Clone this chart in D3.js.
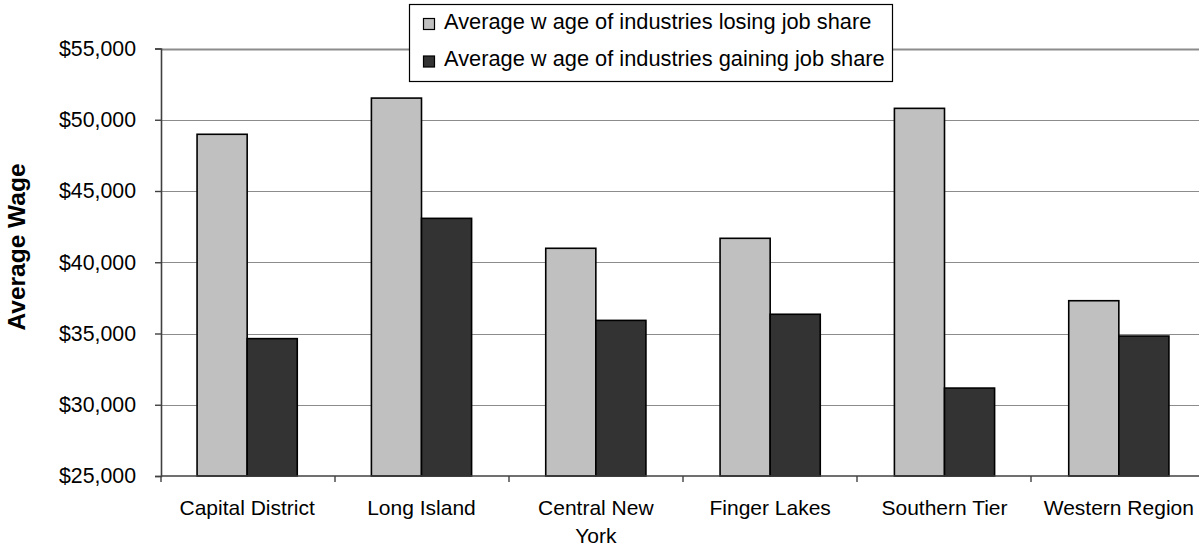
<!DOCTYPE html>
<html>
<head>
<meta charset="utf-8">
<script src="https://cdn.jsdelivr.net/npm/d3@7"></script>
<style>
  html, body { margin: 0; padding: 0; background: #fff; }
  svg { display: block; font-family: "Liberation Sans", Arial, sans-serif; }
</style>
</head>
<body>
<svg id="chart" width="1199" height="548"></svg>
<script>
const categories = ["Capital District", "Long Island", "Central New York", "Finger Lakes", "Southern Tier", "Western Region"];
const seriesNames = ["Average w age of industries losing job share", "Average w age of industries gaining job share"];
const losingValues = [48980, 51520, 40980, 41680, 50800, 37300];
const gainingValues = [34640, 43080, 35920, 36350, 31170, 34820];
const yTicks = [25000, 30000, 35000, 40000, 45000, 50000, 55000];
const yTitle = "Average Wage";

(function () {
const seriesColors = ["#c0c0c0", "#333333"];
const svg = d3.select("#chart");
const pLeft = 161, pRight = 1205, pTop = 48.5, pBottom = 476;

const y = d3.scaleLinear().domain([25000, 55000]).range([pBottom, pTop]);
const x0 = d3.scaleBand().domain(categories).range([pLeft, pRight])
  .paddingInner(74 / 174).paddingOuter(36 / 174);
const x1 = d3.scaleBand().domain([0, 1]).range([0, x0.bandwidth()]);

// gridlines
svg.append("g").selectAll("line").data(yTicks.filter(d => d > 25000)).join("line")
  .attr("x1", pLeft).attr("x2", pRight)
  .attr("y1", d => Math.round(y(d)) + 0.5).attr("y2", d => Math.round(y(d)) + 0.5)
  .attr("stroke", "#8c8c8c").attr("stroke-width", d => d === 55000 ? 2 : 1.2);

// bars
const data = categories.map((c, i) => ({ c, v: [losingValues[i], gainingValues[i]] }));
const groups = svg.append("g").selectAll("g").data(data).join("g")
  .attr("transform", d => `translate(${x0(d.c)},0)`);
groups.selectAll("rect").data(d => d.v.map((v, k) => ({ v, k }))).join("rect")
  .attr("x", d => x1(d.k))
  .attr("width", x1.bandwidth())
  .attr("y", d => y(d.v))
  .attr("height", d => pBottom - y(d.v))
  .attr("fill", d => seriesColors[d.k])
  .attr("stroke", "#000").attr("stroke-width", 1.6);

// y axis
const yAxis = d3.axisLeft(y).tickValues(yTicks).tickSize(6).tickPadding(19)
  .tickFormat(d => "$" + d3.format(",")(d));
const gy = svg.append("g").attr("transform", `translate(${pLeft},0)`).call(yAxis);
gy.select(".domain").attr("stroke", "#404040").attr("stroke-width", 1.6);
gy.selectAll(".tick line").attr("stroke", "#404040").attr("stroke-width", 1.4);
gy.selectAll(".tick text").attr("font-size", 21.3).attr("fill", "#000")
  .attr("font-family", "Liberation Sans, Arial, sans-serif");

// x axis line and boundary ticks
svg.append("line").attr("x1", pLeft).attr("x2", pRight).attr("y1", pBottom).attr("y2", pBottom)
  .attr("stroke", "#404040").attr("stroke-width", 1.6);
const stepW = (pRight - pLeft) / categories.length;
svg.append("g").selectAll("line").data(d3.range(categories.length + 1)).join("line")
  .attr("x1", i => pLeft + i * stepW).attr("x2", i => pLeft + i * stepW)
  .attr("y1", pBottom).attr("y2", pBottom + 6)
  .attr("stroke", "#404040").attr("stroke-width", 1.4);

// category labels with wrapping
function wrapWords(text, maxW, fontSize) {
  const words = text.split(" ");
  const meas = svg.append("text").attr("font-size", fontSize).attr("visibility", "hidden");
  const lines = [];
  let cur = "";
  words.forEach(w => {
    const test = cur ? cur + " " + w : w;
    meas.text(test);
    if (meas.node().getComputedTextLength() > maxW && cur) { lines.push(cur); cur = w; }
    else cur = test;
  });
  if (cur) lines.push(cur);
  meas.remove();
  return lines;
}
categories.forEach(c => {
  const lines = wrapWords(c, 158, 21);
  const cx = x0(c) + x0.bandwidth() / 2;
  const t = svg.append("text").attr("font-size", 21).attr("text-anchor", "middle")
    .attr("x", cx).attr("y", 515).attr("fill", "#000");
  lines.forEach((l, i) => t.append("tspan").attr("x", cx).attr("y", 515 + i * 28).text(l));
});

// y title
svg.append("text").attr("transform", "translate(25,247) rotate(-90)")
  .attr("text-anchor", "middle").attr("font-weight", "bold").attr("font-size", 24.5)
  .attr("fill", "#000").text(yTitle);

// legend
const lg = svg.append("g");
lg.append("rect").attr("x", 409.5).attr("y", 4.5).attr("width", 483).attr("height", 77)
  .attr("fill", "#fff").attr("stroke", "#000").attr("stroke-width", 1.2);
seriesNames.forEach((s, i) => {
  const cy = 24 + i * 37.5;
  lg.append("rect").attr("x", 423.5).attr("y", cy - 5.5).attr("width", 11).attr("height", 11)
    .attr("fill", seriesColors[i]).attr("stroke", "#000").attr("stroke-width", 1.2);
  lg.append("text").attr("x", 444).attr("y", 28.5 + i * 37.5)
    .attr("font-size", 21.8).attr("fill", "#000").text(s);
});
})();
</script>
</body>
</html>
